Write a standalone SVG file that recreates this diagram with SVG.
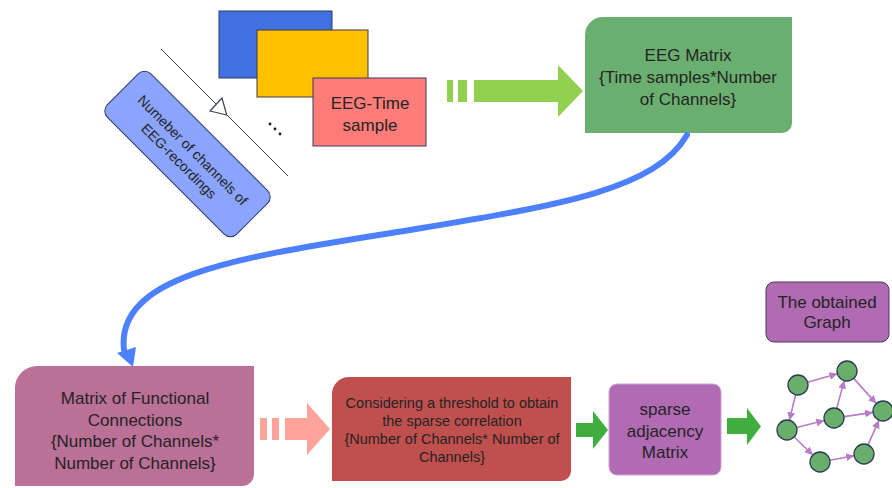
<svg xmlns="http://www.w3.org/2000/svg" width="892" height="488" viewBox="0 0 892 488">
  <style>
    text { font-family: "Liberation Sans", Arial, sans-serif; fill: #242424; text-anchor: middle; }
    .t17 { font-size: 17px; }
    .t14 { font-size: 14.5px; }
    .t14r { font-size: 14px; }
    .edge { stroke: #b67cc6; stroke-width: 1.6; fill: none; marker-end: url(#gh); }
    .gnode { fill: #6aae6c; stroke: #2b3a58; stroke-width: 1.3; }
    .fat-green { fill: #92d050; }
    .fat-dark { fill: #3fae3f; }
    .fat-pink { fill: #ffa39b; }
  </style>
  <defs>
    <marker id="gh" viewBox="0 0 10 10" refX="10" refY="5" markerWidth="8" markerHeight="8" markerUnits="userSpaceOnUse" orient="auto">
      <path d="M0,0 L10,5 L0,10 z" fill="#b67cc6"/>
    </marker>
  </defs>
  <rect width="892" height="488" fill="#ffffff"/>

  <!-- stacked time-sample sheets -->
  <g id="sheet-blue">
    <rect x="219" y="11" width="113" height="67" fill="#4170e0" stroke="#2c3b6a" stroke-width="1"/>
  </g>
  <g id="sheet-yellow">
    <rect x="257" y="30" width="111" height="67" fill="#ffc000" stroke="#3a3a4a" stroke-width="1"/>
  </g>
  <g id="eeg-time-sample">
    <rect x="313" y="78" width="113" height="68" fill="#ff7c79" stroke="#3a3a5a" stroke-width="1"/>
    <text class="t17" x="370" y="109">EEG-Time</text>
    <text class="t17" x="370" y="131">sample</text>
  </g>

  <!-- channel axis with open arrowhead and ellipsis -->
  <g id="channel-axis">
    <line x1="161" y1="49" x2="288" y2="176" stroke="#3a3f55" stroke-width="1"/>
    <polygon points="210,111 222,98 226.7,115" fill="#ffffff" stroke="#3a3f55" stroke-width="1.2"/>
    <circle cx="270" cy="124" r="1.4" fill="#1a1a2a"/>
    <circle cx="275" cy="129" r="1.4" fill="#1a1a2a"/>
    <circle cx="280" cy="134" r="1.4" fill="#1a1a2a"/>
  </g>

  <g id="channels-label" transform="translate(187.5,154) rotate(45)">
    <rect x="-91.5" y="-30.75" width="183" height="61.5" rx="9" fill="#8aa4ff" stroke="#2e3a66" stroke-width="1"/>
    <text class="t14r" x="1" y="-1.5">Numeber of channels of</text>
    <text class="t14r" x="-1" y="16">EEG-recordings</text>
  </g>

  <g id="eeg-matrix">
    <path d="M603,17 H792 V123 A10,10 0 0 1 782,133 H585 V35 A18,18 0 0 1 603,17 z" fill="#6baf70"/>
    <text class="t17" x="688" y="61">EEG Matrix</text>
    <text class="t17" x="688" y="83">{Time samples*Number</text>
    <text class="t17" x="688" y="105">of Channels}</text>
  </g>

  <g id="functional-connections">
    <path d="M37,366 H254 V474 A12,12 0 0 1 242,486 H15 V388 A22,22 0 0 1 37,366 z" fill="#bb7097"/>
    <text class="t17" x="135" y="404">Matrix of Functional</text>
    <text class="t17" x="135" y="426">Connections</text>
    <text class="t17" x="135" y="447">{Number of Channels*</text>
    <text class="t17" x="135" y="469">Number of Channels}</text>
  </g>

  <g id="threshold">
    <path d="M349,377 H571 V471 A10,10 0 0 1 561,481 H332 V394 A17,17 0 0 1 349,377 z" fill="#c0504d"/>
    <text class="t14" x="452" y="408">Considering a threshold to obtain</text>
    <text class="t14" x="452" y="426">the sparse correlation</text>
    <text class="t14" x="452" y="444">{Number of Channels* Number of</text>
    <text class="t14" x="452" y="462">Channels}</text>
  </g>

  <g id="sparse-adjacency">
    <rect x="609" y="384" width="112" height="91" rx="8" fill="#b06bb3" stroke="#cfa2d3" stroke-width="1"/>
    <text class="t17" x="665" y="415">sparse</text>
    <text class="t17" x="665" y="437">adjacency</text>
    <text class="t17" x="665" y="458">Matrix</text>
  </g>

  <g id="obtained-graph-label">
    <rect x="766" y="282" width="123" height="60" rx="8" fill="#b06bb3" stroke="#4a3a5c" stroke-width="1"/>
    <text class="t17" x="827" y="308">The obtained</text>
    <text class="t17" x="827" y="328">Graph</text>
  </g>

  <!-- small example graph -->
  <g id="graph-edges">
    <line class="edge" x1="807.6" y1="382.3" x2="837.4" y2="373.7"/>
    <line class="edge" x1="795.6" y1="394.7" x2="789.4" y2="420.3"/>
    <line class="edge" x1="796.7" y1="427.5" x2="824.3" y2="420.5"/>
    <line class="edge" x1="836.7" y1="408.4" x2="844.3" y2="380.6"/>
    <line class="edge" x1="853.7" y1="378.4" x2="876.3" y2="403.6"/>
    <line class="edge" x1="843.9" y1="416.6" x2="873.1" y2="412.4"/>
    <line class="edge" x1="794.2" y1="437" x2="812.8" y2="455"/>
    <line class="edge" x1="829.8" y1="460.2" x2="854.2" y2="455.8"/>
    <line class="edge" x1="868" y1="444.9" x2="879" y2="420.2"/>
  </g>
  <g id="graph-nodes">
    <circle class="gnode" cx="798" cy="385" r="10"/>
    <circle class="gnode" cx="847" cy="371" r="10"/>
    <circle class="gnode" cx="787" cy="430" r="10"/>
    <circle class="gnode" cx="834" cy="418" r="10"/>
    <circle class="gnode" cx="883" cy="411" r="10"/>
    <circle class="gnode" cx="820" cy="462" r="10"/>
    <circle class="gnode" cx="864" cy="454" r="10"/>
  </g>

  <!-- connectors -->
  <g id="connectors">
    <g id="arrow-sample-to-matrix" class="fat-green">
      <rect x="447" y="80" width="6" height="22"/>
      <rect x="458" y="80" width="9" height="22"/>
      <rect x="474" y="80" width="85" height="22"/>
      <polygon points="558,65 583,91 558,117"/>
    </g>
    <g id="curve-matrix-to-connections">
      <path d="M687,135 C655,190 560,205 410,230 C250,256 115,272 124,350" fill="none" stroke="#4d80ff" stroke-width="6" stroke-linecap="round"/>
      <polygon points="117,353 136,347 133,367" fill="#4d80ff"/>
    </g>
    <g id="arrow-connections-to-threshold" class="fat-pink">
      <rect x="260" y="418" width="7" height="22"/>
      <rect x="272" y="418" width="7" height="22"/>
      <rect x="285" y="418" width="23" height="22"/>
      <polygon points="307,403 330,429 307,455"/>
    </g>
    <g id="arrow-threshold-to-sparse" class="fat-dark">
      <rect x="576" y="423" width="18" height="14"/>
      <polygon points="593,411 608,430 593,449"/>
    </g>
    <g id="arrow-sparse-to-graph" class="fat-dark">
      <rect x="727" y="418" width="21" height="16"/>
      <polygon points="747,408 761,426.5 747,445"/>
    </g>
  </g>
</svg>
